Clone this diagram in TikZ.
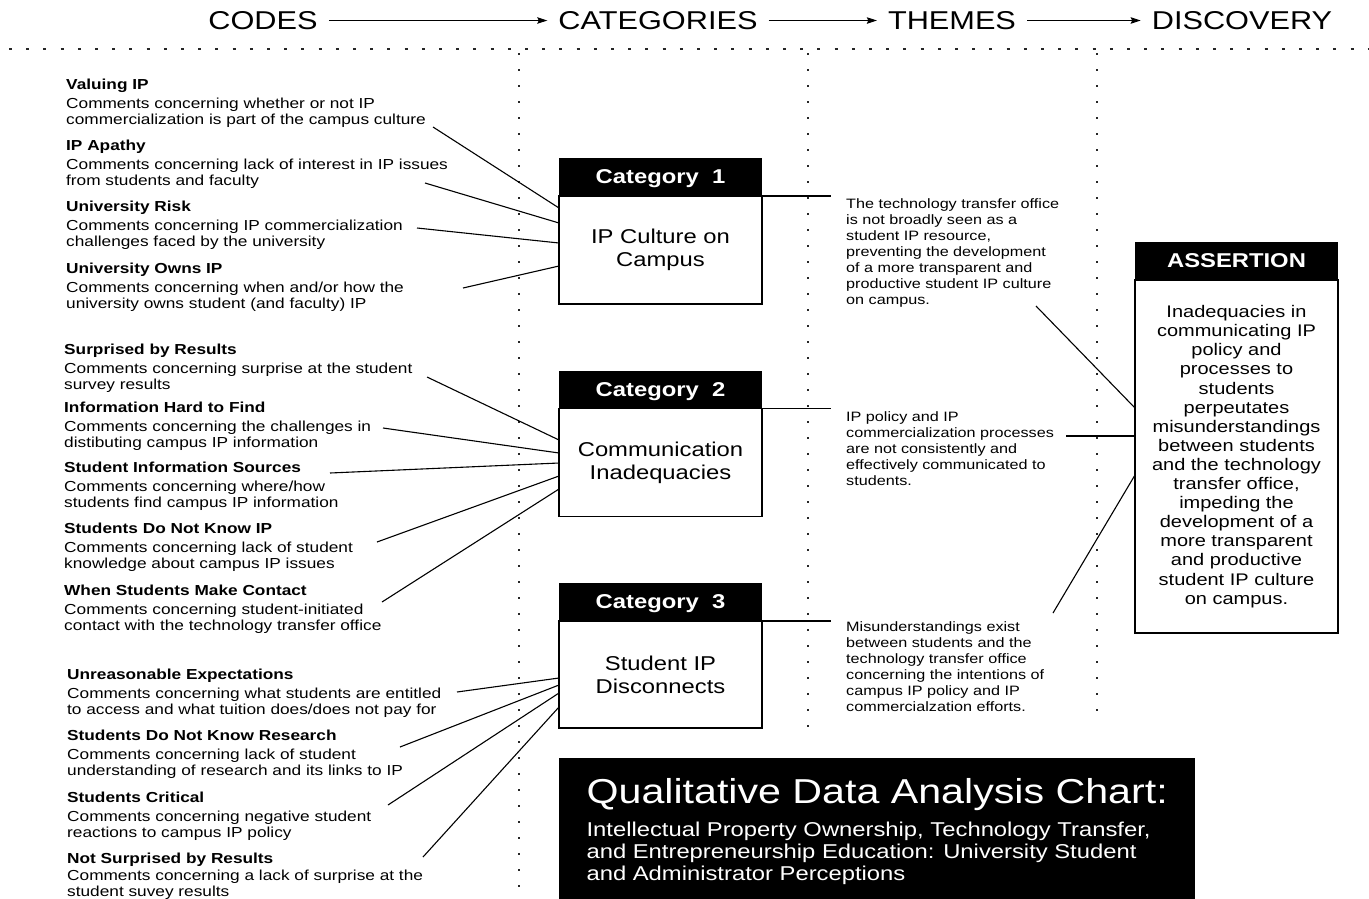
\documentclass[tikz,border=0pt]{standalone}
\usepackage{fontspec}
\setmainfont{Liberation Sans}[FakeStretch=1.19]
\usepackage{tikz}
\usetikzlibrary{positioning,arrows.meta}

\tikzset{
  headnode/.style={font=\fontsize{25.8}{28}\selectfont, inner xsep=11pt, inner ysep=0pt},
  flowarrow/.style={line width=1pt, -{Stealth[length=10pt,width=6.5pt,inset=1.5pt]}},
  hdots/.style={line width=1.6pt, black!85, dash pattern=on 3pt off 14.2pt},
  vdots/.style={line width=1.6pt, black!85, dash pattern=on 2pt off 14pt},
  codenode/.style={anchor=north west, inner sep=0pt, align=left, font=\fontsize{14.5}{16}\selectfont},
  cathead/.style={fill=black, text=white, minimum width=203pt, minimum height=38pt, inner sep=0pt, outer sep=0pt, text depth=0pt, font=\bfseries\fontsize{20}{23}\selectfont},
  catbody/.style={draw, line width=1.2pt, minimum width=203pt, inner sep=0pt, outer sep=0pt, align=center, font=\fontsize{20}{23}\selectfont},
  themenode/.style={anchor=north west, inner xsep=15pt, inner ysep=0pt, align=left, font=\fontsize{13.6}{16}\selectfont},
  conn/.style={line width=1.1pt},
}

\begin{document}
\begin{tikzpicture}[x=1pt,y=-1pt]
  \useasboundingbox (0,0) rectangle (1369,898);

  % column headings
  \node[headnode] (codes) at (263,20.5) {CODES};
  \node[headnode] (cats) at (658,20.5) {CATEGORIES};
  \node[headnode] (themes) at (952,20.5) {THEMES};
  \node[headnode] (disc) at (1242,20.5) {DISCOVERY};
  \draw[flowarrow] (codes) -- (cats);
  \draw[flowarrow] (cats) -- (themes);
  \draw[flowarrow] (themes) -- (disc);

  \draw[hdots] (9,49) -- (1369,49);
  \foreach \x/\y in {519/898,808/735,1097/722}{
    \draw[vdots] (\x,53) -- (\x,\y);
  }

  % codes, first group
  \node[codenode] (valuing) at (66,78.6) {\textbf{Valuing IP}\\[3pt]Comments concerning whether or not IP\\commercialization is part of the campus culture};
  \node[codenode] (apathy) at (66,139.6) {\textbf{IP Apathy}\\[3pt]Comments concerning lack of interest in IP issues\\from students and faculty};
  \node[codenode] (risk) at (66,200.6) {\textbf{University Risk}\\[3pt]Comments concerning IP commercialization\\challenges faced by the university};
  \node[codenode] (owns) at (66,262.6) {\textbf{University Owns IP}\\[3pt]Comments concerning when and/or how the\\university owns student (and faculty) IP};
  \coordinate (valuing-out) at (433,127);
  \coordinate (apathy-out) at (425,183);
  \coordinate (risk-out) at (417,228);
  \coordinate (owns-out) at (463,288);

  % codes, second group
  \node[codenode] (surprised) at (64,343.6) {\textbf{Surprised by Results}\\[3pt]Comments concerning surprise at the student\\survey results};
  \node[codenode] (hard) at (64,401.6) {\textbf{Information Hard to Find}\\[3pt]Comments concerning the challenges in\\distibuting campus IP information};
  \node[codenode] (sources) at (64,461.6) {\textbf{Student Information Sources}\\[3pt]Comments concerning where/how\\students find campus IP information};
  \node[codenode] (knowip) at (64,522.6) {\textbf{Students Do Not Know IP}\\[3pt]Comments concerning lack of student\\knowledge about campus IP issues};
  \node[codenode] (contact) at (64,584.6) {\textbf{When Students Make Contact}\\[3pt]Comments concerning student-initiated\\contact with the technology transfer office};
  \coordinate (surprised-out) at (427,377);
  \coordinate (hard-out) at (383,428);
  \coordinate (sources-out) at (330,473);
  \coordinate (knowip-out) at (377,542);
  \coordinate (contact-out) at (382,602);

  % codes, third group
  \node[codenode] (expect) at (67,668.6) {\textbf{Unreasonable Expectations}\\[3pt]Comments concerning what students are entitled\\to access and what tuition does/does not pay for};
  \node[codenode] (research) at (67,729.6) {\textbf{Students Do Not Know Research}\\[3pt]Comments concerning lack of student\\understanding of research and its links to IP};
  \node[codenode] (critical) at (67,791.6) {\textbf{Students Critical}\\[3pt]Comments concerning negative student\\reactions to campus IP policy};
  \node[codenode] (notsurp) at (67,852.6) {\textbf{Not Surprised by Results}\\[1pt]Comments concerning a lack of surprise at the\\student suvey results};
  \coordinate (expect-out) at (457,692);
  \coordinate (research-out) at (400,747);
  \coordinate (critical-out) at (388,805);
  \coordinate (notsurp-out) at (423,857);

  % categories
  \node[cathead] (c1h) at (660.5,177) {Category\ \ 1};
  \node[catbody, below=0pt of c1h, minimum height=108pt] (c1) {IP Culture on\\Campus};
  \node[cathead] (c2h) at (660.5,389.5) {Category\ \ 2};
  \node[catbody, below=0pt of c2h, minimum height=108pt] (c2) {Communication\\Inadequacies};
  \node[cathead] (c3h) at (660.5,602) {Category\ \ 3};
  \node[catbody, below=0pt of c3h, minimum height=107pt] (c3) {Student IP\\Disconnects};

  \foreach \n/\y in {valuing/208,apathy/223,risk/243,owns/266}{
    \draw[conn] (\n-out) -- (c1.west |- 0,\y);
  }
  \foreach \n/\y in {surprised/440,hard/453,sources/463,knowip/476,contact/489}{
    \draw[conn] (\n-out) -- (c2.west |- 0,\y);
  }
  \foreach \n/\y in {expect/678,research/685,critical/693,notsurp/707}{
    \draw[conn] (\n-out) -- (c3.west |- 0,\y);
  }

  % themes
  \node[themenode] (th1) at (831,198) {The technology transfer office\\is not broadly seen as a\\student IP resource,\\preventing the development\\of a more transparent and\\productive student IP culture\\on campus.};
  \node[themenode] (th2) at (831,411) {IP policy and IP\\commercialization processes\\are not consistently and\\effectively communicated to\\students.};
  \node[themenode] (th3) at (831,621) {Misunderstandings exist\\between students and the\\technology transfer office\\concerning the intentions of\\campus IP policy and IP\\commercialzation efforts.};
  \draw[conn] (c1h.south east) -- (c1h.south east -| th1.west);
  \draw[conn] (c2h.south east) -- (c2h.south east -| th2.west);
  \draw[conn] (c3h.south east) -- (c3h.south east -| th3.west);

  % discovery
  \node[cathead] (ash) at (1236.5,261) {ASSERTION};
  \node[catbody, below=0pt of ash, minimum height=353pt, font=\fontsize{16.8}{19.1}\selectfont] (as) {Inadequacies in\\communicating IP\\policy and\\processes to\\students\\perpeutates\\misunderstandings\\between students\\and the technology\\transfer office,\\impeding the\\development of a\\more transparent\\and productive\\student IP culture\\on campus.};
  \coordinate (th1-out) at (1036,306);
  \coordinate (th2-out) at (1066,436);
  \coordinate (th3-out) at (1053,613);
  \draw[conn] (th1-out) -- (as.west |- 0,408);
  \draw[conn] (th2-out) -- (as.west |- 0,436);
  \draw[conn] (th3-out) -- (as.west |- 0,475);

  % chart title
  \node[fill=black, text=white, anchor=north west, minimum width=636pt, inner xsep=0pt, inner ysep=20pt, align=left, font=\fontsize{20}{22}\selectfont] (chart) at (559,758) {{\fontsize{34.6}{36}\selectfont Qualitative Data Analysis Chart:}\\[10.8pt]Intellectual Property Ownership, Technology Transfer,\\and Entrepreneurship Education: University Student\\and Administrator Perceptions};
\end{tikzpicture}
\end{document}
